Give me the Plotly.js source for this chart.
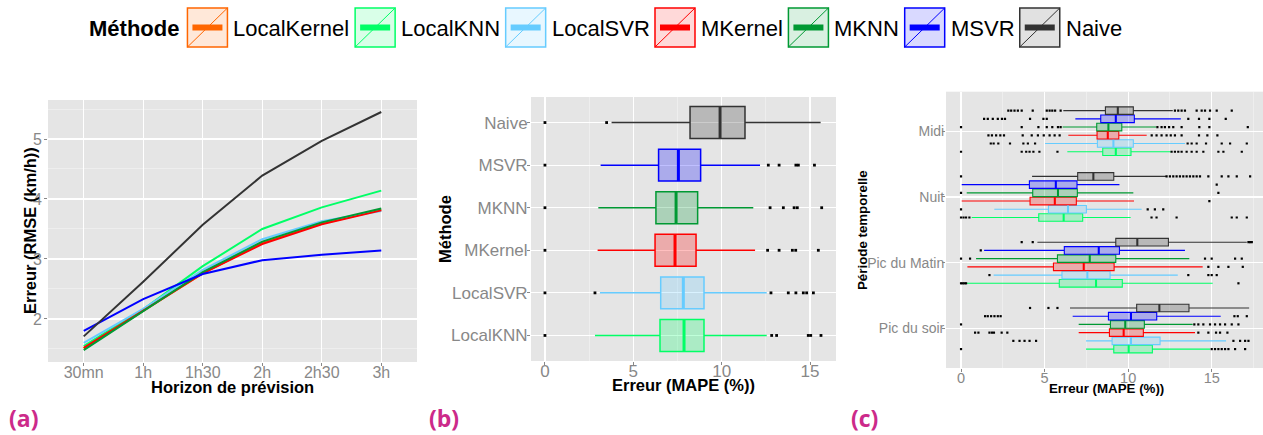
<!DOCTYPE html>
<html><head><meta charset="utf-8">
<script src="https://cdn.plot.ly/plotly-3.0.1.min.js"></script>
<style>html,body{margin:0;padding:0;background:#fff;}#chart{width:1263px;height:435px;}</style>
</head><body><div id="chart"></div>
<script>
// ---------- data ----------
const methods = ['LocalKernel','LocalKNN','LocalSVR','MKernel','MKNN','MSVR','Naive'];
const methodColors = ['#FF6600','#00FF66','#66CCFF','#FF0000','#009933','#0000FF','#333333'];

// panel (a): RMSE by forecast horizon
const horizons = ['30mn','1h','1h30','2h','2h30','3h'];
const rmseLocalKernel = [1.51, 2.13, 2.76, 3.27, 3.59, 3.82];
const rmseLocalKNN    = [1.55, 2.16, 2.88, 3.50, 3.86, 4.14];
const rmseLocalSVR    = [1.60, 2.17, 2.82, 3.33, 3.63, 3.80];
const rmseMKernel     = [1.52, 2.14, 2.76, 3.25, 3.58, 3.81];
const rmseMKNN        = [1.48, 2.13, 2.78, 3.29, 3.61, 3.84];
const rmseMSVR        = [1.80, 2.33, 2.75, 2.98, 3.07, 3.14];
const rmseNaive       = [1.71, 2.62, 3.57, 4.39, 4.97, 5.45];

// panel (b): MAPE box statistics by method
const boxMethods = ['LocalKNN','LocalSVR','MKernel','MKNN','MSVR','Naive'];
const mapeQ1   = [6.51, 6.55, 6.23, 6.28, 6.43, 8.21];
const mapeMed  = [7.87, 7.83, 7.36, 7.42, 7.55, 9.91];
const mapeQ3   = [9.00, 9.00, 8.55, 8.64, 8.81, 11.32];
const mapeLow  = [2.83, 3.11, 2.98, 3.02, 3.15, 3.77];
const mapeHigh = [12.55, 12.55, 11.89, 11.79, 12.17, 15.60];
const mapeOutliers = [
  [0, 12.83, 13.11, 14.90, 15.04, 15.62],
  [0, 2.83, 12.79, 13.77, 14.20, 14.62, 14.81, 15.19],
  [0, 12.60, 13.25, 14.00, 14.19, 15.47],
  [0, 12.74, 13.49, 14.10, 14.28, 15.66],
  [0, 12.64, 13.25, 14.20, 14.34, 15.25],
  [0, 3.49]
];

// panel (c): MAPE by time period (rows = boxMethods, columns = periods)
const periods = ['Pic du soir','Pic du Matin','Nuit','Midi'];
const q1Period = [
  [9.14, 5.88, 4.65, 8.48],
  [9.04, 6.04, 5.23, 8.16],
  [8.88, 5.53, 4.13, 8.14],
  [8.94, 5.77, 4.29, 8.12],
  [8.82, 6.18, 4.09, 8.36],
  [10.51, 9.26, 6.98, 8.64]
];
const medPeriod = [
  [10.03, 8.08, 6.14, 9.26],
  [10.17, 7.56, 6.40, 9.12],
  [9.73, 7.34, 5.61, 8.78],
  [9.83, 7.70, 5.80, 8.82],
  [10.17, 8.24, 5.67, 9.26],
  [11.87, 10.55, 7.92, 9.38]
];
const q3Period = [
  [11.45, 9.65, 7.28, 10.17],
  [11.91, 8.92, 7.50, 10.31],
  [10.91, 9.16, 6.90, 9.44],
  [10.97, 9.26, 6.96, 9.62],
  [11.71, 9.48, 6.94, 10.37],
  [13.64, 12.41, 9.14, 10.31]
];
const lowPeriod = [
  [7.48, 0.34, 0.64, 6.36],
  [7.48, 1.95, 1.99, 5.03],
  [7.04, 0.38, 0.04, 6.42],
  [7.04, 0.90, 0.34, 6.08],
  [6.68, 1.38, 0.04, 6.84],
  [6.52, 4.57, 4.25, 6.12]
];
const highPeriod = [
  [14.90, 15.06, 10.15, 12.55],
  [15.86, 12.97, 10.81, 13.40],
  [14.00, 14.46, 10.35, 11.11],
  [13.86, 13.66, 10.31, 11.67],
  [15.54, 13.40, 9.48, 13.15],
  [17.24, 17.10, 12.27, 12.67]
];
const outPeriod = [
  [[0, 15.0, 15.2, 15.4, 15.6, 15.8, 16.0, 16.4, 17.0],
   [0, 0.1, 0.2, 0.3, 16.6],
   [0, 0.15, 0.3, 0.5, 11.4, 11.7, 12.9, 16.2, 16.5, 17.1],
   [0, 3.63, 3.9, 4.1, 4.33, 4.69, 5.77, 12.6, 12.8, 13.0, 13.2, 13.5, 13.8, 14.1, 14.5, 15.4, 15.7, 16.8]],
  [[3.13, 3.5, 3.8, 4.1, 4.49, 16.3, 16.7, 17.0, 17.2],
   [1.70, 13.6, 14.8, 15.0, 15.3],
   [0, 11.17, 11.6, 12.1],
   [1.78, 1.95, 2.23, 2.93, 3.73, 4.0, 4.43, 13.56, 13.8, 14.1, 14.66, 15.6, 16.1, 17.1]],
  [[0.84, 1.04, 1.7, 1.85, 1.97, 2.43, 2.77, 14.2, 14.8, 15.26, 15.5, 15.94],
   [14.8, 15.4, 16.0, 16.86],
   [14.86],
   [1.64, 1.85, 2.1, 2.35, 2.57, 3.69, 4.23, 4.6, 4.95, 5.3, 5.6, 5.9, 11.41, 11.7, 12.0, 12.3, 12.55, 12.8, 13.2, 14.24, 14.74, 15.34]],
  [[0, 13.96, 14.2, 14.5, 14.9, 15.2, 15.5, 15.8, 16.2, 16.6],
   [0, 0.54, 14.6, 15.0, 16.4, 16.8],
   [0, 15.4],
   [0, 3.63, 4.63, 5.13, 5.46, 5.8, 5.96, 11.75, 12.0, 12.2, 12.45, 12.7, 13.2, 14.26, 14.86, 17.16]],
  [[1.44, 1.6, 1.8, 2.0, 2.2, 2.37, 16.36, 16.56, 17.1],
   [1.18],
   [15.3],
   [1.38, 1.6, 1.9, 2.2, 2.45, 2.63, 4.13, 4.93, 5.13, 13.6, 14.24, 14.86, 15.84]],
  [[4.13, 5.23, 5.77],
   [3.63, 4.29, 17.2, 17.3, 17.4],
   [0, 12.3, 12.5, 12.7, 12.9, 13.1, 13.3, 13.5, 13.7, 13.9, 14.1, 14.3, 14.8, 15.6, 16.0, 16.5, 17.3],
   [2.83, 3.0, 3.2, 3.4, 3.63, 4.29, 5.13, 5.3, 5.46, 5.63, 5.96, 12.8, 13.0, 13.2, 13.4, 14.1, 14.4, 14.6, 14.9, 15.3, 16.2]]
];

// ---------- styling helpers ----------
const W = 1263, H = 435;
const FONT = '"Liberation Sans", Arial, Helvetica, sans-serif';
const GREY = '#888888';
const BG = '#E5E5E5';
function rgba(hex, a) {
  const n = parseInt(hex.slice(1), 16);
  return 'rgba(' + (n >> 16) + ',' + ((n >> 8) & 255) + ',' + (n & 255) + ',' + a + ')';
}
function colorOf(m) { return methodColors[methods.indexOf(m)]; }
const px = x => x / W;
const py = y => 1 - y / H;

const traces = [];

// panel (a)
const rmseSeries = [rmseLocalKernel, rmseLocalKNN, rmseLocalSVR, rmseMKernel, rmseMKNN, rmseMSVR, rmseNaive];
methods.forEach((m, i) => {
  traces.push({type: 'scatter', mode: 'lines', name: m, x: horizons, y: rmseSeries[i],
    line: {color: methodColors[i], width: 2}, xaxis: 'x', yaxis: 'y', hoverinfo: 'skip'});
});

// panel (b)
const BW = 0.75;
boxMethods.forEach((m, i) => {
  const c = colorOf(m);
  traces.push({type: 'box', orientation: 'h', name: m, y: [i],
    q1: [mapeQ1[i]], median: [mapeMed[i]], q3: [mapeQ3[i]],
    lowerfence: [mapeLow[i]], upperfence: [mapeHigh[i]],
    width: BW, whiskerwidth: 0, boxpoints: false,
    line: {color: c, width: 1.5}, fillcolor: rgba(c, 0.25),
    xaxis: 'x2', yaxis: 'y2', hoverinfo: 'skip'});
});
boxMethods.forEach((m, i) => {
  const c = colorOf(m);
  traces.push({type: 'scatter', mode: 'lines', x: [mapeMed[i], mapeMed[i]], y: [i - BW / 2, i + BW / 2],
    line: {color: c, width: 3}, xaxis: 'x2', yaxis: 'y2', hoverinfo: 'skip'});
  traces.push({type: 'scatter', mode: 'markers', x: mapeOutliers[i], y: mapeOutliers[i].map(() => i),
    marker: {color: '#000', size: 2.8, symbol: 'square'}, xaxis: 'x2', yaxis: 'y2', hoverinfo: 'skip'});
});

// panel (c)
const dodge = BW / boxMethods.length;
boxMethods.forEach((m, i) => {
  const c = colorOf(m);
  const off = (i - (boxMethods.length - 1) / 2) * dodge;
  const pos = periods.map((p, j) => j + off);
  traces.push({type: 'box', orientation: 'h', name: m, y: pos,
    q1: q1Period[i], median: medPeriod[i], q3: q3Period[i],
    lowerfence: lowPeriod[i], upperfence: highPeriod[i],
    width: dodge * 0.92, whiskerwidth: 0, boxpoints: false,
    line: {color: c, width: 1.1}, fillcolor: rgba(c, 0.25),
    xaxis: 'x3', yaxis: 'y3', hoverinfo: 'skip'});
});
boxMethods.forEach((m, i) => {
  const c = colorOf(m);
  const off = (i - (boxMethods.length - 1) / 2) * dodge;
  const mx = [], my = [], ox = [], oy = [];
  periods.forEach((p, j) => {
    const pos = j + off;
    mx.push(medPeriod[i][j], medPeriod[i][j], null);
    my.push(pos - dodge * 0.46, pos + dodge * 0.46, null);
    outPeriod[i][j].forEach(v => { ox.push(v); oy.push(pos); });
  });
  traces.push({type: 'scatter', mode: 'lines', x: mx, y: my, line: {color: c, width: 2},
    xaxis: 'x3', yaxis: 'y3', hoverinfo: 'skip'});
  traces.push({type: 'scatter', mode: 'markers', x: ox, y: oy,
    marker: {color: '#000', size: 2.2, symbol: 'square'}, xaxis: 'x3', yaxis: 'y3', hoverinfo: 'skip'});
});

// ---------- axes ----------
function baseAxis(extra) {
  return Object.assign({
    showgrid: true, gridcolor: '#FFFFFF', gridwidth: 1.2, zeroline: false, showline: false,
    ticks: 'outside', ticklen: 3, tickwidth: 1, tickcolor: GREY,
    tickfont: {family: FONT, size: 16, color: GREY}, fixedrange: true
  }, extra);
}
const minorGrid = d => ({dtick: d, tick0: 0, showgrid: true, gridcolor: '#F4F4F4', gridwidth: 0.6});
const titleFont = s => ({family: FONT, size: s, color: '#000', weight: 'bold'});

const layout = {
  width: W, height: H, margin: {l: 0, r: 0, t: 0, b: 0},
  paper_bgcolor: '#FFFFFF', plot_bgcolor: BG, showlegend: false,
  font: {family: FONT},
  xaxis: baseAxis({type: 'category', domain: [px(48), px(417)], range: [-0.6, 5.6], anchor: 'y',
    ticklabelstandoff: -7}),
  yaxis: baseAxis({domain: [py(362), py(100)], range: [1.283, 5.65], dtick: 1, tick0: 0, anchor: 'x',
    minor: minorGrid(0.5), ticklabelstandoff: -1}),
  xaxis2: baseAxis({domain: [px(531), px(836)], range: [-0.79, 16.47], dtick: 5, tick0: 0, anchor: 'y2',
    minor: minorGrid(2.5), tickfont: {family: FONT, size: 17, color: GREY}, ticklabelstandoff: -8}),
  yaxis2: baseAxis({domain: [py(361), py(97)], range: [-0.6, 5.6], anchor: 'x2',
    tickmode: 'array', tickvals: boxMethods.map((m, i) => i), ticktext: boxMethods,
    tickfont: {family: FONT, size: 17, color: GREY}, ticklabelstandoff: -4}),
  xaxis3: baseAxis({domain: [px(946), 1], range: [-0.9, 18.07], dtick: 5, tick0: 0, anchor: 'y3',
    minor: minorGrid(2.5), tickfont: {family: FONT, size: 14.5, color: GREY}, ticklabelstandoff: -6}),
  yaxis3: baseAxis({domain: [py(368), py(91.7)], range: [-0.6, 3.6], anchor: 'x3',
    tickmode: 'array', tickvals: periods.map((p, j) => j), ticktext: periods,
    tickfont: {family: FONT, size: 14, color: GREY}, ticklabelstandoff: -5}),
  shapes: [], annotations: []
};

// ---------- axis titles ----------
const axisTitles = [
  ['Horizon de prévision', 232, 387, 0, 16.5],
  ['Erreur (RMSE (km/h))', 30, 231, -90, 16.5],
  ['Erreur (MAPE (%))', 683, 385, 0, 16.5],
  ['Méthode', 445, 229, -90, 16.5],
  ['Erreur (MAPE (%))', 1106, 388, 0, 13.3],
  ['Période temporelle', 862, 230, -90, 13.3]
];
axisTitles.forEach(([t, x, y, a, s]) => {
  layout.annotations.push({xref: 'paper', yref: 'paper', x: px(x), y: py(y), xanchor: 'center', yanchor: 'middle',
    text: t, textangle: a, showarrow: false, font: titleFont(s)});
});

// ---------- legend (drawn) ----------
const ctx = document.createElement('canvas').getContext('2d');
const LEG_FS = 22;
const KEY_TOP = 8, KEY_BOT = 47, KEY_W = 40, KEY_MID = 27.5;
let lx = 87;
ctx.font = 'bold ' + LEG_FS + 'px "Liberation Sans"';
layout.annotations.push({xref: 'paper', yref: 'paper', x: px(lx), y: py(KEY_MID + 0.5), xanchor: 'left', yanchor: 'middle',
  text: 'Méthode', showarrow: false, font: titleFont(LEG_FS)});
lx += ctx.measureText('Méthode').width + 10;
ctx.font = LEG_FS + 'px "Liberation Sans"';
methods.forEach((m, i) => {
  const c = methodColors[i];
  layout.shapes.push({type: 'rect', xref: 'paper', yref: 'paper', x0: px(lx), x1: px(lx + KEY_W), y0: py(KEY_BOT), y1: py(KEY_TOP),
    line: {color: c, width: 1.5}, fillcolor: rgba(c, 0.15), layer: 'above'});
  layout.shapes.push({type: 'line', xref: 'paper', yref: 'paper', x0: px(lx), x1: px(lx + KEY_W), y0: py(KEY_BOT), y1: py(KEY_TOP),
    line: {color: c, width: 1}, layer: 'above'});
  layout.shapes.push({type: 'line', xref: 'paper', yref: 'paper', x0: px(lx + 5), x1: px(lx + KEY_W - 5), y0: py(KEY_MID), y1: py(KEY_MID),
    line: {color: c, width: 6}, layer: 'above'});
  layout.annotations.push({xref: 'paper', yref: 'paper', x: px(lx + KEY_W + 4), y: py(KEY_MID + 0.5), xanchor: 'left', yanchor: 'middle',
    text: m, showarrow: false, font: {family: FONT, size: LEG_FS, color: '#000'}});
  lx += KEY_W + 5 + ctx.measureText(m).width + 6.5;
});

// ---------- panel labels ----------
[['(a)', 7], ['(b)', 427], ['(c)', 849]].forEach(([t, x]) => {
  layout.annotations.push({xref: 'paper', yref: 'paper', x: px(x), y: py(418), xanchor: 'left', yanchor: 'middle',
    text: t, showarrow: false, font: {family: '"Open Sans", sans-serif', size: 23, color: '#CC2A8A', weight: 'bold'}});
});

Plotly.newPlot('chart', traces, layout, {displayModeBar: false, staticPlot: true});
</script></body></html>
